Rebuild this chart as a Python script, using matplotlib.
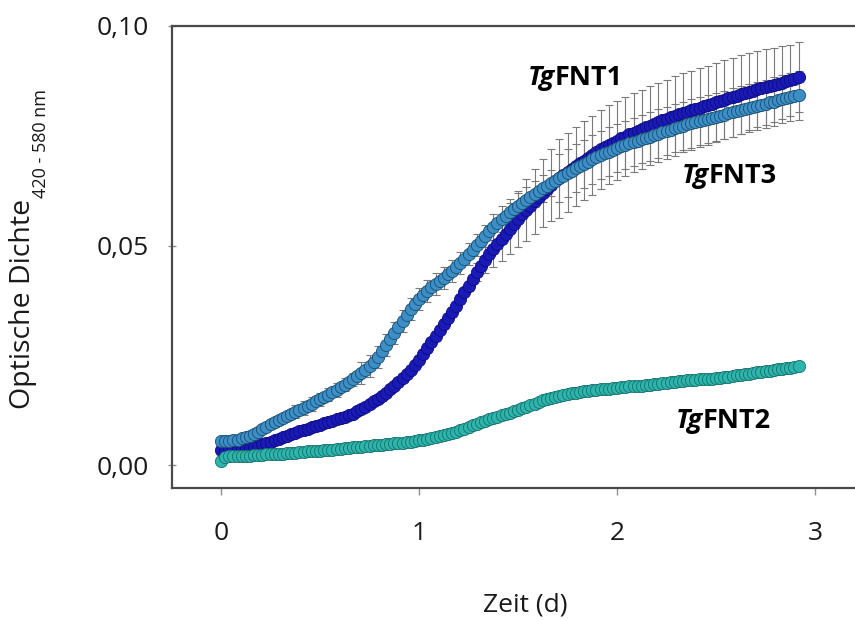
import numpy as np
import matplotlib
matplotlib.use("Agg")
import matplotlib.pyplot as plt
from matplotlib.offsetbox import TextArea, HPacker, AnnotationBbox

plt.rcParams['font.family'] = ['Open Sans', 'DejaVu Sans']

# measurement grid: half-hourly readings (in hours), converted to days below
time_h = [k * 0.5 for k in range(141)]

fnt1 = [0.0034, 0.0033, 0.0034, 0.0035, 0.0035, 0.0036, 0.0037, 0.0039, 0.0041, 0.0044,
        0.0047, 0.0050, 0.0053, 0.0057, 0.0060, 0.0063, 0.0066, 0.0070, 0.0073, 0.0077,
        0.0080, 0.0083, 0.0086, 0.0089, 0.0092, 0.0095, 0.0098, 0.0101, 0.0104, 0.0107,
        0.0110, 0.0113, 0.0117, 0.0122, 0.0127, 0.0133, 0.0139, 0.0145, 0.0151, 0.0157,
        0.0164, 0.0172, 0.0180, 0.0189, 0.0198, 0.0207, 0.0217, 0.0228, 0.0240, 0.0253,
        0.0267, 0.0280, 0.0294, 0.0307, 0.0321, 0.0335, 0.0349, 0.0363, 0.0378, 0.0393,
        0.0408, 0.0424, 0.0439, 0.0453, 0.0467, 0.0480, 0.0492, 0.0504, 0.0515, 0.0527,
        0.0538, 0.0549, 0.0560, 0.0571, 0.0581, 0.0591, 0.0601, 0.0611, 0.0620, 0.0629,
        0.0638, 0.0646, 0.0653, 0.0660, 0.0667, 0.0674, 0.0680, 0.0687, 0.0693, 0.0700,
        0.0706, 0.0713, 0.0719, 0.0724, 0.0729, 0.0734, 0.0739, 0.0744, 0.0748, 0.0753,
        0.0757, 0.0761, 0.0765, 0.0769, 0.0773, 0.0777, 0.0781, 0.0785, 0.0788, 0.0792,
        0.0795, 0.0799, 0.0802, 0.0805, 0.0808, 0.0811, 0.0814, 0.0817, 0.0820, 0.0823,
        0.0826, 0.0829, 0.0832, 0.0835, 0.0838, 0.0841, 0.0844, 0.0847, 0.0850, 0.0853,
        0.0856, 0.0859, 0.0861, 0.0864, 0.0866, 0.0869, 0.0871, 0.0874, 0.0876, 0.0880,
        0.0884]
fnt1_err = [0.0006] * 34 + [0.0008] * 16 + [0.0012] * 12 + \
           [0.0020, 0.0025, 0.0030, 0.0035, 0.0040, 0.0045, 0.0050, 0.0055, 0.0058, 0.0061,
            0.0064, 0.0067, 0.0070, 0.0072, 0.0074, 0.0076, 0.0078, 0.0080, 0.0082, 0.0085] + \
           [0.0090] * 44 + \
           [0.0089, 0.0089, 0.0088, 0.0088, 0.0087, 0.0087, 0.0086, 0.0086, 0.0085, 0.0084,
            0.0083, 0.0082, 0.0081, 0.0080, 0.0080]

fnt3 = [0.0055, 0.0054, 0.0055, 0.0056, 0.0058, 0.0061, 0.0064, 0.0067, 0.0071, 0.0076,
        0.0081, 0.0087, 0.0093, 0.0098, 0.0103, 0.0108, 0.0112, 0.0117, 0.0121, 0.0126,
        0.0130, 0.0135, 0.0139, 0.0145, 0.0150, 0.0155, 0.0160, 0.0166, 0.0171, 0.0177,
        0.0183, 0.0189, 0.0195, 0.0202, 0.0209, 0.0217, 0.0225, 0.0235, 0.0246, 0.0259,
        0.0273, 0.0287, 0.0301, 0.0315, 0.0329, 0.0342, 0.0355, 0.0367, 0.0378, 0.0388,
        0.0397, 0.0405, 0.0413, 0.0420, 0.0427, 0.0434, 0.0442, 0.0451, 0.0460, 0.0470,
        0.0480, 0.0490, 0.0501, 0.0511, 0.0522, 0.0532, 0.0542, 0.0551, 0.0560, 0.0568,
        0.0576, 0.0583, 0.0590, 0.0597, 0.0604, 0.0611, 0.0617, 0.0624, 0.0630, 0.0636,
        0.0642, 0.0648, 0.0654, 0.0659, 0.0665, 0.0670, 0.0676, 0.0681, 0.0686, 0.0691,
        0.0696, 0.0701, 0.0706, 0.0710, 0.0714, 0.0718, 0.0722, 0.0726, 0.0729, 0.0733,
        0.0736, 0.0739, 0.0742, 0.0745, 0.0748, 0.0752, 0.0755, 0.0758, 0.0761, 0.0764,
        0.0767, 0.0770, 0.0773, 0.0776, 0.0778, 0.0781, 0.0783, 0.0786, 0.0788, 0.0791,
        0.0793, 0.0796, 0.0798, 0.0801, 0.0803, 0.0806, 0.0808, 0.0811, 0.0813, 0.0816,
        0.0818, 0.0821, 0.0823, 0.0826, 0.0828, 0.0831, 0.0833, 0.0836, 0.0838, 0.0840,
        0.0842]
fnt3_err = [0.0008] * 18 + [0.0015] * 16 + [0.0025] * 32 + [0.0030] * 16 + [0.0055] * 59

fnt2 = [0.0010, 0.0019, 0.0020, 0.0021, 0.0021, 0.0020, 0.0020, 0.0021, 0.0022, 0.0023,
        0.0023, 0.0025, 0.0024, 0.0025, 0.0025, 0.0026, 0.0027, 0.0028, 0.0028, 0.0029,
        0.0030, 0.0031, 0.0031, 0.0032, 0.0033, 0.0034, 0.0034, 0.0035, 0.0036, 0.0037,
        0.0038, 0.0039, 0.0040, 0.0041, 0.0042, 0.0043, 0.0044, 0.0045, 0.0045, 0.0046,
        0.0047, 0.0048, 0.0049, 0.0050, 0.0051, 0.0052, 0.0053, 0.0055, 0.0056, 0.0058,
        0.0059, 0.0061, 0.0063, 0.0066, 0.0068, 0.0071, 0.0073, 0.0076, 0.0079, 0.0083,
        0.0086, 0.0090, 0.0094, 0.0098, 0.0101, 0.0104, 0.0107, 0.0110, 0.0113, 0.0116,
        0.0119, 0.0123, 0.0126, 0.0130, 0.0133, 0.0137, 0.0140, 0.0144, 0.0147, 0.0150,
        0.0153, 0.0156, 0.0158, 0.0160, 0.0162, 0.0164, 0.0165, 0.0167, 0.0168, 0.0169,
        0.0170, 0.0171, 0.0172, 0.0173, 0.0174, 0.0175, 0.0176, 0.0177, 0.0178, 0.0179,
        0.0180, 0.0181, 0.0181, 0.0182, 0.0183, 0.0184, 0.0185, 0.0186, 0.0186, 0.0188,
        0.0190, 0.0191, 0.0192, 0.0193, 0.0193, 0.0194, 0.0195, 0.0196, 0.0196, 0.0197,
        0.0198, 0.0199, 0.0200, 0.0201, 0.0202, 0.0204, 0.0205, 0.0207, 0.0208, 0.0210,
        0.0211, 0.0212, 0.0213, 0.0215, 0.0216, 0.0218, 0.0219, 0.0221, 0.0222, 0.0224,
        0.0225]

x_ticks = [0, 1, 2, 3]
x_ticklabels = ["0", "1", "2", "3"]
y_ticks = [0.0, 0.05, 0.10]
y_ticklabels = ["0,00", "0,05", "0,10"]

t = np.array(time_h) / 24.0

W, H = 855, 621
fig = plt.figure(figsize=(W / 100, H / 100), dpi=100)
ax = fig.add_axes([172 / W, 1 - 488 / H, (W - 172) / W, (488 - 26) / H])

ebar_col = "#7a7a7a"
ax.errorbar(t, fnt1, yerr=fnt1_err, fmt="none", ecolor=ebar_col, elinewidth=0.8,
            capsize=3, capthick=0.8, errorevery=2, zorder=1)
ax.errorbar(t, fnt3, yerr=fnt3_err, fmt="none", ecolor=ebar_col, elinewidth=0.8,
            capsize=3, capthick=0.8, errorevery=2, zorder=1)

ms = 8.8
ax.plot(t, fnt1, "o", ms=ms, mfc="#1a1ab8", mec="#0d0d7a", mew=0.6, zorder=2)
ax.plot(t, fnt3, "o", ms=ms, mfc="#3b8ec6", mec="#1d4d6e", mew=0.6, zorder=3)
ax.plot(t, fnt2, "o", ms=ms, mfc="#2db5ad", mec="#176f69", mew=0.6, zorder=4)

ax.set_xlim((172 - 221) / 198, (W - 221) / 198)
ax.set_ylim((465 - 488) / 4390, 0.10)

ax.set_xticks(x_ticks)
ax.set_xticklabels(x_ticklabels)
ax.set_yticks(y_ticks)
ax.set_yticklabels(y_ticklabels)
ax.tick_params(axis="x", direction="out", length=5, width=1, color="#909090",
               labelsize=19, pad=19, labelcolor="#1a1a1a")
ax.tick_params(axis="y", direction="inout", length=6, width=1, color="#909090",
               labelsize=19, pad=14, labelcolor="#1a1a1a")

for s in ["left", "top", "bottom"]:
    ax.spines[s].set_color("#4a4a4a")
    ax.spines[s].set_linewidth(1.6)
ax.spines["right"].set_visible(False)

# axis titles
fig.text(23 / W, 1 - 304 / H, "Optische Dichte", rotation=90, ha="center", va="center",
         fontsize=20.5, color="#1a1a1a")
fig.text(41 / W, 1 - 144 / H, "420 - 580 nm", rotation=90, ha="center", va="center",
         fontsize=13, color="#1a1a1a")
fig.text(525 / W, 1 - 605 / H, "Zeit (d)", ha="center", va="center",
         fontsize=19, color="#1a1a1a")

def series_label(name, x, y):
    p1 = TextArea("Tg", textprops=dict(fontsize=19.5, fontweight="bold", fontstyle="italic",
                                      color="black"))
    p2 = TextArea(name, textprops=dict(fontsize=19.5, fontweight="bold", color="black"))
    box = HPacker(children=[p1, p2], align="baseline", pad=0, sep=0)
    ab = AnnotationBbox(box, (x, y), xycoords="data", frameon=False,
                        box_alignment=(0.5, 0.5), zorder=6)
    ax.add_artist(ab)

series_label("FNT1", (575 - 221) / 198, (465 - 78) / 4390)
series_label("FNT3", (729 - 221) / 198, (465 - 176) / 4390)
series_label("FNT2", (723 - 221) / 198, (465 - 421) / 4390)

fig.savefig("out.png", dpi=100)
